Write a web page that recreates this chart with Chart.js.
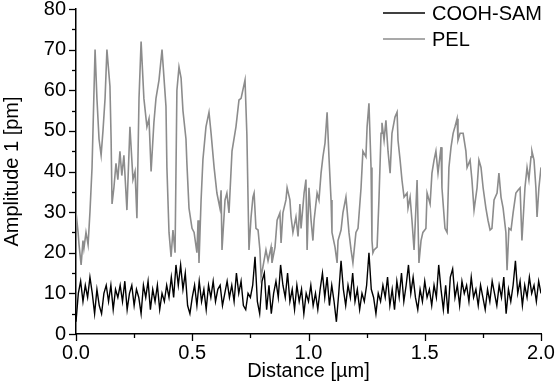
<!DOCTYPE html>
<html>
<head>
<meta charset="utf-8">
<script src="https://cdn.jsdelivr.net/npm/chart.js@4.4.1/dist/chart.umd.min.js"></script>
<style>
  html, body { margin: 0; padding: 0; background: #fff; }
  #wrap { width: 556px; height: 383px; }
</style>
</head>
<body>
<div id="wrap"><canvas id="amplitudeChart" width="556" height="383"></canvas></div>
<script>
  // COOH-SAM trace (black)
  const coohX = [
    0.00, 0.01, 0.02, 0.03, 0.04, 0.05, 0.06, 0.07, 0.08, 0.09,
    0.10, 0.11, 0.12, 0.13, 0.14, 0.15, 0.16, 0.17, 0.18, 0.19,
    0.20, 0.21, 0.22, 0.23, 0.24, 0.25, 0.26, 0.27, 0.28, 0.29,
    0.30, 0.31, 0.32, 0.33, 0.34, 0.35, 0.36, 0.37, 0.38, 0.39,
    0.40, 0.41, 0.42, 0.43, 0.44, 0.45, 0.46, 0.47, 0.48, 0.49,
    0.50, 0.51, 0.52, 0.53, 0.54, 0.55, 0.56, 0.57, 0.58, 0.59,
    0.60, 0.61, 0.62, 0.63, 0.64, 0.65, 0.66, 0.67, 0.68, 0.69,
    0.70, 0.71, 0.72, 0.73, 0.74, 0.75, 0.76, 0.77, 0.78, 0.79,
    0.80, 0.81, 0.82, 0.83, 0.84, 0.85, 0.86, 0.87, 0.88, 0.89,
    0.90, 0.91, 0.92, 0.93, 0.94, 0.95, 0.96, 0.97, 0.98, 0.99,
    1.00, 1.01, 1.02, 1.03, 1.04, 1.05, 1.06, 1.07, 1.08, 1.09,
    1.10, 1.11, 1.12, 1.13, 1.14, 1.15, 1.16, 1.17, 1.18, 1.19,
    1.20, 1.21, 1.22, 1.23, 1.24, 1.25, 1.26, 1.27, 1.28, 1.29,
    1.30, 1.31, 1.32, 1.33, 1.34, 1.35, 1.36, 1.37, 1.38, 1.39,
    1.40, 1.41, 1.42, 1.43, 1.44, 1.45, 1.46, 1.47, 1.48, 1.49,
    1.50, 1.51, 1.52, 1.53, 1.54, 1.55, 1.56, 1.57, 1.58, 1.59,
    1.60, 1.61, 1.62, 1.63, 1.64, 1.65, 1.66, 1.67, 1.68, 1.69,
    1.70, 1.71, 1.72, 1.73, 1.74, 1.75, 1.76, 1.77, 1.78, 1.79,
    1.80, 1.81, 1.82, 1.83, 1.84, 1.85, 1.86, 1.87, 1.88, 1.89,
    1.90, 1.91, 1.92, 1.93, 1.94, 1.95, 1.96, 1.97, 1.98, 1.99,
    2.00
  ];
  const coohY = [
    3, 10, 13, 8, 12, 9, 14, 10, 5, 11,
    7, 5, 10, 12, 8, 12, 6, 11, 9, 12,
    8, 13, 6, 10, 12, 7, 11, 9, 5, 12,
    9, 13, 6, 11, 8, 12, 6, 10, 8, 12,
    9, 14, 9, 17, 12, 17, 11, 15, 7, 5,
    9, 12, 7, 13, 8, 11, 6, 12, 9, 13,
    8, 11, 12, 7, 10, 13, 9, 12, 8, 15,
    10, 13, 7, 6, 10, 9, 12, 19, 8, 5,
    13, 15, 6, 12, 5, 10, 13, 9, 17, 12,
    9, 15, 8, 11, 6, 12, 8, 11, 5, 10,
    8, 12, 7, 10, 6, 11, 15, 9, 14, 7,
    12, 8, 3, 10, 18, 11, 7, 12, 9, 15,
    8, 11, 6, 10, 8, 12, 20, 11, 9, 5,
    10, 8, 12, 9, 14, 7, 11, 6, 13, 9,
    15, 8, 12, 17, 10, 14, 9, 6, 11, 8,
    13, 9, 11, 7, 12, 9, 17, 11, 6, 12,
    5, 14, 16, 9, 12, 7, 13, 10, 12, 8,
    14, 9, 11, 7, 12, 9, 6, 11, 8, 13,
    10, 7, 12, 9, 14, 5, 11, 8, 12, 18,
    10, 13, 7, 12, 9, 14, 10, 12, 8, 13,
    10
  ];

  // PEL trace (grey)
  const pelX = [
    0.000, 0.009, 0.013, 0.022, 0.030, 0.034, 0.043, 0.052, 0.060, 0.069,
    0.082, 0.090, 0.099, 0.108, 0.116, 0.125, 0.133, 0.146, 0.151, 0.155,
    0.163, 0.172, 0.180, 0.189, 0.197, 0.206, 0.219, 0.232, 0.245, 0.254,
    0.262, 0.271, 0.280, 0.292, 0.305, 0.314, 0.323, 0.335, 0.344, 0.357,
    0.370, 0.387, 0.391, 0.400, 0.409, 0.417, 0.426, 0.434, 0.443, 0.452,
    0.460, 0.473, 0.477, 0.486, 0.499, 0.508, 0.520, 0.525, 0.529, 0.538,
    0.546, 0.559, 0.572, 0.581, 0.594, 0.606, 0.619, 0.624, 0.628, 0.641,
    0.649, 0.658, 0.671, 0.688, 0.701, 0.710, 0.727, 0.735, 0.744, 0.753,
    0.761, 0.766, 0.774, 0.783, 0.791, 0.796, 0.804, 0.817, 0.826, 0.839,
    0.843, 0.856, 0.865, 0.877, 0.882, 0.890, 0.903, 0.908, 0.920, 0.925,
    0.933, 0.946, 0.955, 0.963, 0.968, 0.981, 0.989, 0.994, 1.002, 1.011,
    1.019, 1.024, 1.037, 1.045, 1.054, 1.062, 1.071, 1.080, 1.088, 1.097,
    1.101, 1.114, 1.123, 1.127, 1.140, 1.148, 1.161, 1.166, 1.174, 1.183,
    1.191, 1.204, 1.213, 1.226, 1.234, 1.247, 1.252, 1.260, 1.269, 1.273,
    1.277, 1.282, 1.295, 1.303, 1.312, 1.316, 1.325, 1.333, 1.342, 1.351,
    1.359, 1.372, 1.381, 1.385, 1.394, 1.402, 1.411, 1.424, 1.428, 1.437,
    1.445, 1.454, 1.462, 1.467, 1.475, 1.484, 1.492, 1.505, 1.510, 1.523,
    1.531, 1.540, 1.548, 1.557, 1.570, 1.574, 1.587, 1.596, 1.604, 1.613,
    1.622, 1.630, 1.639, 1.643, 1.652, 1.665, 1.677, 1.682, 1.695, 1.703,
    1.712, 1.725, 1.733, 1.742, 1.751, 1.763, 1.772, 1.781, 1.789, 1.798,
    1.811, 1.819, 1.828, 1.837, 1.849, 1.854, 1.862, 1.871, 1.880, 1.892,
    1.901, 1.910, 1.918, 1.931, 1.940, 1.948, 1.957, 1.961, 1.970, 1.978,
    1.983, 1.991, 2.000
  ];
  const pelY = [
    30, 25, 22, 17, 23, 21, 25, 22, 30, 41,
    70, 58, 48, 44, 50, 58, 70, 61, 48, 32,
    36, 42, 38, 45, 39, 44, 30.5, 51, 38, 40,
    28.5, 58, 72, 58, 51, 53, 40, 52, 58, 62.5,
    70, 56, 41, 25, 19, 25.6, 20, 60, 65.7, 63,
    55, 48, 42, 31, 26, 25, 20, 28, 17.5, 33,
    43, 51, 54.6, 49.4, 41, 34.7, 31, 35.4, 20.7, 33,
    34.7, 29.8, 45, 51, 57.6, 58, 62.5, 49, 20.7, 28.8,
    33.7, 34.7, 26, 25.6, 20.7, 14, 16.5, 20.7, 18, 21.4,
    17.5, 21.4, 28, 29.8, 22.4, 29.8, 33, 36, 33, 28.8,
    25, 28.8, 24, 32, 26, 34.7, 38, 20.7, 36, 28,
    23, 28, 34.7, 33, 39.6, 43.6, 47, 54.6, 43.6, 33,
    25, 21.4, 17.5, 23, 25.6, 29.8, 33.7, 30.5, 25, 20.7,
    17.5, 25, 26, 36, 45, 43.6, 51, 56.8, 41, 23,
    20, 20.7, 21.4, 33, 49.4, 52, 47.7, 52.6, 45, 39.6,
    49.4, 53.4, 54.6, 47.7, 42.8, 37.9, 33.7, 34.7, 31, 33.7,
    28, 20.7, 31, 37.9, 17.5, 23, 25, 26, 34.7, 32,
    39.6, 42.8, 45, 39.6, 46, 36, 26, 25, 41, 46,
    49.4, 51, 53, 47.7, 49.4, 49.4, 45, 41, 42.8, 37.9,
    30.5, 36, 42.8, 41, 36, 31, 28, 25.6, 26, 33,
    34.7, 39.6, 33.7, 31, 25, 15.7, 26, 25.6, 29.8, 34.7,
    35.4, 36, 23, 36, 41, 38, 43.6, 45, 42.8, 36,
    28.8, 36, 41
  ];

  const seriesNames = ["COOH-SAM", "PEL"];
  const seriesColors = ["#000000", "#8c8c8c"];

  const xTicks = { min: 0, max: 2, step: 0.25 };
  const yTicks = { min: 0, max: 80, step: 5 };

  const FONT = "'Liberation Sans', Arial, sans-serif";

  function toPoints(xs, ys) {
    return xs.map((x, i) => ({ x: x, y: ys[i] }));
  }

  // tick marks pointing outwards, long for labelled ticks, short for the others
  const tickMarks = {
    id: "tickMarks",
    afterDraw(chart) {
      const ctx = chart.ctx;
      const area = chart.chartArea;
      ctx.save();
      ctx.strokeStyle = "#000";
      ctx.lineWidth = 1.3;
      const xs = chart.scales.x;
      xs.ticks.forEach(t => {
        const px = Math.round(xs.getPixelForValue(t.value)) + 0.5;
        const len = t.label !== "" ? 7 : 4;
        ctx.beginPath();
        ctx.moveTo(px, area.bottom);
        ctx.lineTo(px, area.bottom + len);
        ctx.stroke();
      });
      const ys = chart.scales.y;
      ys.ticks.forEach(t => {
        const py = Math.round(ys.getPixelForValue(t.value)) + 0.5;
        const len = t.label !== "" ? 7 : 4;
        ctx.beginPath();
        ctx.moveTo(area.left, py);
        ctx.lineTo(area.left - len, py);
        ctx.stroke();
      });
      ctx.restore();
    }
  };

  // legend sits inside the plot, top right
  const insideLegend = {
    id: "insideLegend",
    afterDraw(chart) {
      const ctx = chart.ctx;
      const area = chart.chartArea;
      ctx.save();
      ctx.font = "20px " + FONT;
      ctx.textBaseline = "middle";
      ctx.textAlign = "left";
      seriesNames.forEach((name, i) => {
        const y = area.top + 4 + i * 26;
        const x0 = area.right - 158;
        ctx.strokeStyle = seriesColors[i];
        ctx.lineWidth = 1.5;
        ctx.beginPath();
        ctx.moveTo(x0, y);
        ctx.lineTo(x0 + 42, y);
        ctx.stroke();
        ctx.fillStyle = "#000";
        ctx.fillText(name, x0 + 49, y + 1);
      });
      ctx.restore();
    }
  };

  const canvas = document.getElementById("amplitudeChart");
  const ctx = canvas.getContext("2d");

  const myChart = new Chart(ctx, {
    type: "line",
    data: {
      datasets: [
        {
          label: seriesNames[0],
          data: toPoints(coohX, coohY),
          borderColor: seriesColors[0],
          borderWidth: 1.4,
          pointRadius: 0,
          tension: 0,
          fill: false
        },
        {
          label: seriesNames[1],
          data: toPoints(pelX, pelY),
          borderColor: seriesColors[1],
          borderWidth: 1.6,
          pointRadius: 0,
          tension: 0,
          fill: false
        }
      ]
    },
    options: {
      responsive: false,
      animation: false,
      devicePixelRatio: 1,
      layout: { padding: { top: 9, right: 15, left: 0, bottom: 0 } },
      plugins: {
        legend: { display: false },
        tooltip: { enabled: false }
      },
      scales: {
        x: {
          type: "linear",
          min: xTicks.min,
          max: xTicks.max,
          afterFit: s => { s.height = 49; s.paddingLeft = 0; s.paddingRight = 0; },
          ticks: {
            stepSize: xTicks.step,
            autoSkip: false,
            maxRotation: 0,
            padding: 7,
            color: "#000",
            font: { family: FONT, size: 20 },
            callback: function(value) {
              const half = value * 2;
              return Math.abs(half - Math.round(half)) < 1e-6 ? value.toFixed(1) : "";
            }
          },
          grid: { display: true, drawOnChartArea: false, drawTicks: false },
          border: { display: true, color: "#000", width: 1.5 },
          title: {
            display: true,
            text: "Distance [µm]",
            color: "#000",
            font: { family: FONT, size: 20 },
            padding: { top: 0, bottom: 0 }
          }
        },
        y: {
          min: yTicks.min,
          max: yTicks.max,
          afterFit: s => { s.width = 76; s.paddingTop = 0; s.paddingBottom = 0; },
          ticks: {
            stepSize: yTicks.step,
            autoSkip: false,
            padding: 10,
            color: "#000",
            font: { family: FONT, size: 20 },
            callback: function(value) {
              return value % 10 === 0 ? value : "";
            }
          },
          grid: { display: true, drawOnChartArea: false, drawTicks: false },
          border: { display: true, color: "#000", width: 1.5 },
          title: {
            display: true,
            text: "Amplitude 1 [pm]",
            color: "#000",
            font: { family: FONT, size: 20 },
            padding: { top: 0, bottom: 0 }
          }
        }
      }
    },
    plugins: [tickMarks, insideLegend]
  });
</script>
</body>
</html>
